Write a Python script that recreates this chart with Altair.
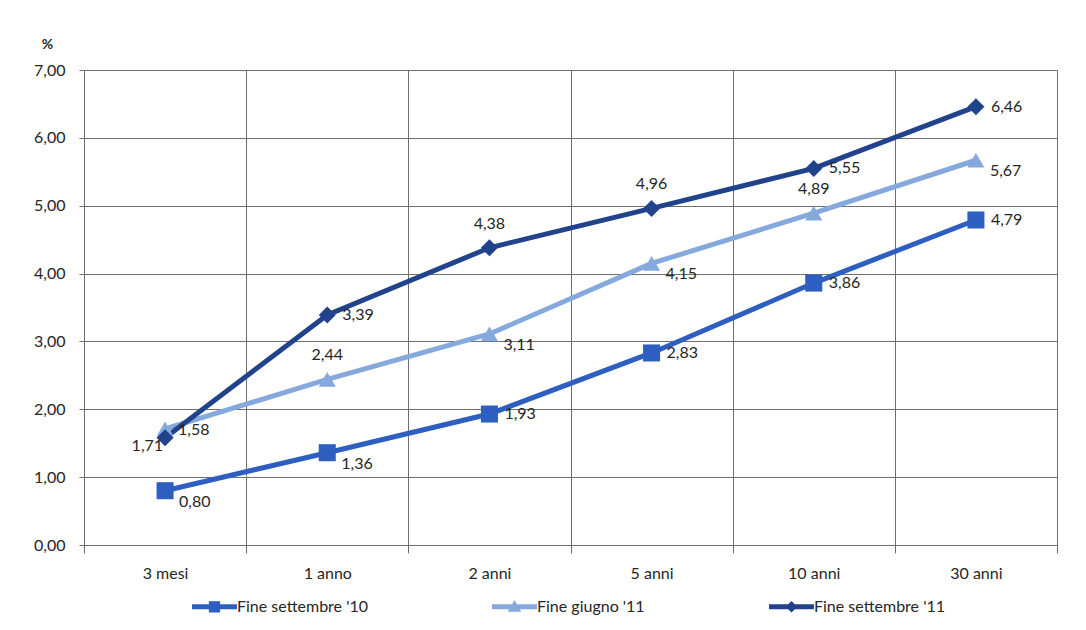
import altair as alt
import pandas as pd

categories = ["3 mesi", "1 anno", "2 anni", "5 anni", "10 anni", "30 anni"]
series_names = ["Fine settembre '10", "Fine giugno '11", "Fine settembre '11"]
values_set10 = [0.80, 1.36, 1.93, 2.83, 3.86, 4.79]
values_giu11 = [1.71, 2.44, 3.11, 4.15, 4.89, 5.67]
values_set11 = [1.58, 3.39, 4.38, 4.96, 5.55, 6.46]
# label placement per point: r=right, rb=right-below, ra=right-above, a=above, lb=left-below
place_set10 = ["rb", "rb", "r", "r", "r", "r"]
place_giu11 = ["lb", "a", "rb", "rb", "a", "rb"]
place_set11 = ["ra", "r", "a", "a", "r", "r"]

colors = ["#2d5ec0", "#85a9dd", "#21438c"]
shapes = ["square", "triangle-up", "diamond"]

rows = []
for name, vals, places in zip(series_names,
                              [values_set10, values_giu11, values_set11],
                              [place_set10, place_giu11, place_set11]):
    for c, v, p in zip(categories, vals, places):
        rows.append({"cat": c, "serie": name, "val": v,
                     "lab": f"{v:.2f}".replace(".", ","), "pos": p})
df = pd.DataFrame(rows)

FONT = "Lato"
FS = 16
TXT = "#262626"
GRID = "#6f6f6f"

x_enc = alt.X("cat:N", sort=categories, title=None,
              scale=alt.Scale(type="band", paddingInner=0, paddingOuter=0),
              bandPosition=0.5,
              axis=alt.Axis(tickBand="extent", grid=True, gridColor=GRID,
                            domainColor=GRID, tickColor=GRID, tickSize=8,
                            labelAngle=0, labelFont=FONT, labelFontSize=FS,
                            labelColor=TXT, labelPadding=12))
y_enc = alt.Y("val:Q", title="%",
              scale=alt.Scale(domain=[0, 7], nice=False),
              axis=alt.Axis(values=[0, 1, 2, 3, 4, 5, 6, 7], grid=True,
                            gridColor=GRID, domainColor=GRID, tickColor=GRID,
                            tickSize=5, labelFont=FONT, labelFontSize=FS,
                            labelColor=TXT, labelPadding=14,
                            labelExpr="replace(format(datum.value, '.2f'), '.', ',')",
                            titleAngle=0, titleAlign="center", titleBaseline="middle",
                            titleX=-37, titleY=-26, titleFont=FONT,
                            titleFontSize=14, titleFontWeight="bold",
                            titleColor=TXT))

line_part = "M-1,-0.11H1V0.11H-1Z"
legend_paths = [
    line_part + "M-0.25,-0.25H0.25V0.25H-0.25Z",
    line_part + "M0,-0.3L0.3,0.22L-0.3,0.22Z",
    line_part + "M0,-0.26L0.26,0L0,0.26L-0.26,0Z",
]

base = alt.Chart(df)

lines = base.mark_line(strokeWidth=5).encode(
    x=x_enc, y=y_enc,
    color=alt.Color("serie:N", scale=alt.Scale(domain=series_names, range=colors),
                    legend=None),
    detail="serie:N",
)
points = base.mark_point(filled=True, opacity=1, size=290).encode(
    x=x_enc, y=y_enc,
    color=alt.Color("serie:N", scale=alt.Scale(domain=series_names, range=colors),
                    legend=None),
    shape=alt.Shape("serie:N", scale=alt.Scale(domain=series_names, range=shapes),
                    legend=None),
)

legend = alt.Legend(title=None, orient="none", direction="horizontal",
                    legendX=108, legendY=514, columnPadding=124,
                    symbolSize=2025, symbolStrokeWidth=0, symbolOffset=0,
                    symbolOpacity=1,
                    labelFont=FONT, labelFontSize=FS, labelColor=TXT,
                    labelOffset=0)
legend_layer = base.transform_filter("false").mark_point(
    filled=True, opacity=1, size=2025
).encode(
    x=x_enc, y=y_enc,
    color=alt.Color("serie:N", scale=alt.Scale(domain=series_names, range=colors),
                    legend=legend),
    shape=alt.Shape("serie:N", scale=alt.Scale(domain=series_names, range=legend_paths),
                    legend=legend),
)

def labels(pos, **kw):
    return base.transform_filter(alt.datum.pos == pos).mark_text(
        font=FONT, fontSize=FS, color=TXT, **kw
    ).encode(x=x_enc, y=y_enc, text="lab:N")

txt = alt.layer(
    labels("r", align="left", baseline="middle", dx=15, dy=0),
    labels("rb", align="left", baseline="middle", dx=14, dy=11),
    labels("ra", align="left", baseline="middle", dx=13, dy=-8),
    labels("a", align="center", baseline="middle", dx=0, dy=-24),
    labels("lb", align="right", baseline="middle", dx=-2, dy=17),
)

chart = alt.layer(lines, points, legend_layer, txt).resolve_scale(
    shape="independent", color="independent"
).properties(
    width=973, height=475,
    autosize=alt.AutoSizeParams(type="none"),
    padding={"left": 76, "top": 62, "right": 21, "bottom": 77},
).configure_view(stroke=GRID, strokeWidth=1).configure_axis(
    gridWidth=1, domainWidth=1, tickWidth=1
).configure(background="#ffffff")

chart.save("out.html", embed_options={"renderer": "svg", "actions": False})
